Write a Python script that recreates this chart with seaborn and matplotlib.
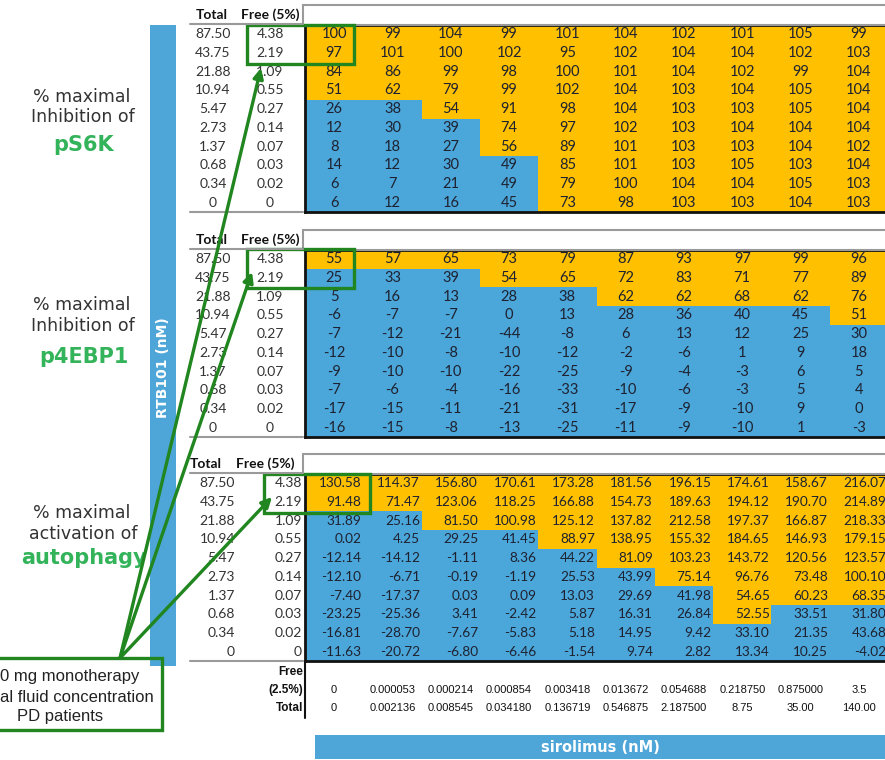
import matplotlib
matplotlib.use('agg')
import matplotlib.pyplot as plt
from matplotlib.colors import ListedColormap
from matplotlib.patches import Rectangle
from matplotlib.transforms import blended_transform_factory
import seaborn as sns
import numpy as np

ORANGE = '#FFC000'
BLUE = '#4BA6DA'
BAR_BLUE = '#4EA6D8'
GREEN_TXT = '#33B35A'
GREEN_LINE = '#21861F'
TXT = '#1e2230'
GRAY = '#9a9a9a'

W, H = 885, 760

# RTB101 concentrations (rows)
RTB_TOTAL = ['87.50', '43.75', '21.88', '10.94', '5.47', '2.73', '1.37', '0.68', '0.34', '0']
RTB_FREE = ['4.38', '2.19', '1.09', '0.55', '0.27', '0.14', '0.07', '0.03', '0.02', '0']

# sirolimus concentrations (columns)
SIRO_FREE = ['0', '0.000053', '0.000214', '0.000854', '0.003418', '0.013672',
             '0.054688', '0.218750', '0.875000', '3.5']
SIRO_TOTAL = ['0', '0.002136', '0.008545', '0.034180', '0.136719', '0.546875',
              '2.187500', '8.75', '35.00', '140.00']

PS6K = [
    [100, 99, 104, 99, 101, 104, 102, 101, 105, 99],
    [97, 101, 100, 102, 95, 102, 104, 104, 102, 103],
    [84, 86, 99, 98, 100, 101, 104, 102, 99, 104],
    [51, 62, 79, 99, 102, 104, 103, 104, 105, 104],
    [26, 38, 54, 91, 98, 104, 103, 103, 105, 104],
    [12, 30, 39, 74, 97, 102, 103, 104, 104, 104],
    [8, 18, 27, 56, 89, 101, 103, 103, 104, 102],
    [14, 12, 30, 49, 85, 101, 103, 105, 103, 104],
    [6, 7, 21, 49, 79, 100, 104, 104, 105, 103],
    [6, 12, 16, 45, 73, 98, 103, 103, 104, 103],
]

P4EBP1 = [
    [55, 57, 65, 73, 79, 87, 93, 97, 99, 96],
    [25, 33, 39, 54, 65, 72, 83, 71, 77, 89],
    [5, 16, 13, 28, 38, 62, 62, 68, 62, 76],
    [-6, -7, -7, 0, 13, 28, 36, 40, 45, 51],
    [-7, -12, -21, -44, -8, 6, 13, 12, 25, 30],
    [-12, -10, -8, -10, -12, -2, -6, 1, 9, 18],
    [-9, -10, -10, -22, -25, -9, -4, -3, 6, 5],
    [-7, -6, -4, -16, -33, -10, -6, -3, 5, 4],
    [-17, -15, -11, -21, -31, -17, -9, -10, 9, 0],
    [-16, -15, -8, -13, -25, -11, -9, -10, 1, -3],
]

AUTOPHAGY = [
    [130.58, 114.37, 156.80, 170.61, 173.28, 181.56, 196.15, 174.61, 158.67, 216.07],
    [91.48, 71.47, 123.06, 118.25, 166.88, 154.73, 189.63, 194.12, 190.70, 214.89],
    [31.89, 25.16, 81.50, 100.98, 125.12, 137.82, 212.58, 197.37, 166.87, 218.33],
    [0.02, 4.25, 29.25, 41.45, 88.97, 138.95, 155.32, 184.65, 146.93, 179.15],
    [-12.14, -14.12, -1.11, 8.36, 44.22, 81.09, 103.23, 143.72, 120.56, 123.57],
    [-12.10, -6.71, -0.19, -1.19, 25.53, 43.99, 75.14, 96.76, 73.48, 100.10],
    [-7.40, -17.37, 0.03, 0.09, 13.03, 29.69, 41.98, 54.65, 60.23, 68.35],
    [-23.25, -25.36, 3.41, -2.42, 5.87, 16.31, 26.84, 52.55, 33.51, 31.80],
    [-16.81, -28.70, -7.67, -5.83, 5.18, 14.95, 9.42, 33.10, 21.35, 43.68],
    [-11.63, -20.72, -6.80, -6.46, -1.54, 9.74, 2.82, 13.34, 10.25, -4.02],
]

TITLES = [
    ('% maximal', 'Inhibition of', 'pS6K'),
    ('% maximal', 'Inhibition of', 'p4EBP1'),
    ('% maximal', 'activation of', 'autophagy'),
]

CMAP = ListedColormap([BLUE, ORANGE])

sns.set_style('white')
plt.rcParams['font.family'] = ['Lato', 'DejaVu Sans']
NARROW = ['Liberation Sans Narrow', 'Liberation Sans', 'DejaVu Sans']


def px_axes(fig, x, y, w, h):
    return fig.add_axes([x / W, 1 - (y + h) / H, w / W, h / H])


def panel(fig, ax0, values, top, fmt, size, right=False):
    ax = px_axes(fig, 305, top, 583, 187)
    sns.heatmap(np.array(values), ax=ax, cmap=CMAP, vmin=0, vmax=100, annot=True,
                fmt=fmt, cbar=False, xticklabels=False, yticklabels=False,
                annot_kws=dict(color=TXT, fontsize=size))
    if right:
        for t in ax.texts:
            x, y = t.get_position()
            t.set_position((x + 0.47, y))
            t.set_ha('right')
    for s in ax.spines.values():
        s.set_visible(True)
        s.set_linewidth(2)
        s.set_color('#111111')

    # header strip
    ax0.add_patch(Rectangle((303, top - 20), 620, 20, fc='white', ec=GRAY, lw=1.5))
    ax0.plot([190, 303], [top - 1, top - 1], color=GRAY, lw=1.5)
    ax0.plot([190, 303], [top + 187, top + 187], color=GRAY, lw=1.5)
    if right:
        ax0.text(190, top - 10, 'Total', ha='left', va='center', fontsize=10,
                 fontweight='bold', color='#111111')
        ax0.text(265, top - 10, 'Free (5%)', ha='center', va='center', fontsize=10,
                 fontweight='bold', color='#111111')
    else:
        ax0.text(212, top - 10, 'Total', ha='center', va='center', fontsize=10,
                 fontweight='bold', color='#111111')
        ax0.text(270, top - 10, 'Free (5%)', ha='center', va='center', fontsize=10,
                 fontweight='bold', color='#111111')

    tr = blended_transform_factory(ax0.transData, ax.transData)
    for i, (tot, fr) in enumerate(zip(RTB_TOTAL, RTB_FREE)):
        if right:
            ax0.text(235, i + 0.5, tot, transform=tr, ha='right', va='center',
                     fontsize=10, color='#333333')
            ax0.text(302, i + 0.5, fr, transform=tr, ha='right', va='center',
                     fontsize=10, color='#333333')
        else:
            ax0.text(213, i + 0.5, tot, transform=tr, ha='center', va='center',
                     fontsize=10, color='#333333')
            ax0.text(270, i + 0.5, fr, transform=tr, ha='center', va='center',
                     fontsize=10, color='#333333')
    return ax


fig = plt.figure(figsize=(W / 100, H / 100), dpi=100)
fig.patch.set_facecolor('white')

# overlay axes in pixel units, drawn on top of the heatmaps
ax0 = fig.add_axes([0, 0, 1, 1], zorder=5)
ax0.set_xlim(0, W)
ax0.set_ylim(H, 0)
ax0.axis('off')

tops = [25, 250, 474]
axes = []
axes.append(panel(fig, ax0, PS6K, tops[0], 'd', 10.5))
axes.append(panel(fig, ax0, P4EBP1, tops[1], 'd', 10.5))
axes.append(panel(fig, ax0, AUTOPHAGY, tops[2], '.2f', 9.8, right=True))

# left titles
title_y = [(97, 117, 145), (305, 326, 357), (513, 534, 558)]
for (l1, l2, l3), (y1, y2, y3) in zip(TITLES, title_y):
    ax0.text(82, y1, l1, ha='center', va='center', fontsize=12.5, color='#333333',
             family='DejaVu Sans')
    ax0.text(83, y2, l2, ha='center', va='center', fontsize=12.5, color='#333333',
             family='DejaVu Sans')
    ax0.text(84, y3, l3, ha='center', va='center', fontsize=15, color=GREEN_TXT,
             fontweight='bold', family='DejaVu Sans')

# RTB101 bar
ax0.add_patch(Rectangle((150, 25), 26, 641, fc=BAR_BLUE, ec='none'))
ax0.text(163, 368, 'RTB101 (nM)', rotation=90, ha='center', va='center',
         fontsize=10, color='white', fontweight='bold', family='DejaVu Sans')

# sirolimus bar
ax0.add_patch(Rectangle((315, 735), 600, 24, fc=BAR_BLUE, ec='none'))
ax0.text(600, 747, 'sirolimus (nM)', ha='center', va='center', fontsize=10.5,
         color='white', fontweight='bold', family='DejaVu Sans')

# sirolimus column labels under last panel
ax3 = axes[2]
tr3 = blended_transform_factory(ax0.transData, ax3.transData)
ax0.text(303, 10.6, 'Free', transform=tr3, ha='right', va='center', fontsize=8.5,
         fontweight='bold', family=NARROW, color='#111111')
ax0.text(303, 11.55, '(2.5%)', transform=tr3, ha='right', va='center', fontsize=8.5,
         fontweight='bold', family=NARROW, color='#111111')
ax0.text(303, 12.5, 'Total', transform=tr3, ha='right', va='center', fontsize=8.5,
         fontweight='bold', family=NARROW, color='#111111')
for j, (fr, tot) in enumerate(zip(SIRO_FREE, SIRO_TOTAL)):
    ax3.text(j + 0.5, 11.55, fr, ha='center', va='center', fontsize=8,
             family=NARROW, color='#111111', clip_on=False)
    ax3.text(j + 0.5, 12.5, tot, ha='center', va='center', fontsize=8,
             family=NARROW, color='#111111', clip_on=False)
ax0.plot([305, 305], [661, 718], color='#111111', lw=1.5)

# green highlight boxes
boxes = [(247, 25, 107, 39), (247, 249, 107, 39), (264, 474, 106, 39)]
for x, y, w, h in boxes:
    ax0.add_patch(Rectangle((x, y), w, h, fc='none', ec=GREEN_LINE, lw=2.4))

# note box with arrows
ax0.add_patch(Rectangle((-5, 658), 167, 72, fc='none', ec=GREEN_LINE, lw=2.4))
ax0.text(0, 677, '0 mg monotherapy', ha='left', va='center', fontsize=12,
         color='#222222', family='Liberation Sans')
ax0.text(0, 697, 'al fluid concentration', ha='left', va='center', fontsize=12,
         color='#222222', family='Liberation Sans')
ax0.text(17, 717, 'PD patients', ha='left', va='center', fontsize=12,
         color='#222222', family='Liberation Sans')

heads = [(261, 68), (252, 272), (272, 497)]
for hx, hy in heads:
    ax0.annotate('', xy=(hx, hy), xytext=(120, 658),
                 arrowprops=dict(arrowstyle='-|>,head_width=0.3,head_length=0.6',
                                 color=GREEN_LINE, lw=2.4, shrinkA=0, shrinkB=0))

fig.savefig('out.png', dpi=100)
